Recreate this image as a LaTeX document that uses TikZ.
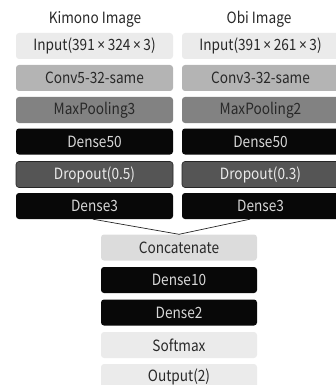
\documentclass[tikz,border=0pt]{standalone}
\usepackage{fontspec}
\setmainfont{Noto Sans CJK JP}[FakeStretch=0.88]
\newfontfamily\timesfont{Noto Sans}[FakeStretch=0.88]
\newcommand{\by}{\,{\timesfont ×}\,}
\usepackage{xcolor}
\usetikzlibrary{positioning,calc}
\definecolor{inputgray}{RGB}{235,235,235}
\definecolor{convgray}{RGB}{180,180,180}
\definecolor{poolgray}{RGB}{130,130,130}
\definecolor{densegray}{RGB}{8,8,8}
\definecolor{dropgray}{RGB}{85,85,85}
\definecolor{concatgray}{RGB}{220,220,220}
\definecolor{darktext}{RGB}{40,40,40}
\definecolor{lighttext}{RGB}{215,215,215}
\tikzset{y=-1pt}
\tikzset{x=1pt}
\tikzstyle{layer}=[rounded corners=3pt, minimum width=157pt, minimum height=26pt, inner sep=0pt, font=\fontsize{15.5}{15.5}\selectfont]
\tikzstyle{title}=[font=\fontsize{15.5}{15.5}\selectfont, text=darktext]
\tikzset{inputlayer/.style={fill=inputgray, text=darktext}}
\tikzset{convlayer/.style={fill=convgray, text=darktext}}
\tikzset{poollayer/.style={fill=poolgray, text=darktext}}
\tikzset{denselayer/.style={fill=densegray, text=lighttext}}
\tikzset{droplayer/.style={fill=dropgray, draw=black!85, line width=.6pt, text=white!92!black}}
\tikzset{concatlayer/.style={fill=concatgray, text=darktext}}

\begin{document}
\begin{tikzpicture}
  \useasboundingbox (0,0) rectangle (335,385);
  \draw (95,19) node[title] (KT) {Kimono Image};
  \draw (259,19) node[title] (OT) {Obi Image};

  \draw (94.5,46) node[layer,inputlayer] (K1) {Input(391\by324\by3)};
  \draw (94.5,78) node[layer,convlayer] (K2) {Conv5-32-same};
  \draw (94.5,110) node[layer,poollayer] (K3) {MaxPooling3};
  \draw (94.5,141.5) node[layer,denselayer] (K4) {Dense50};
  \draw (94.5,174.5) node[layer,droplayer] (K5) {Dropout(0.5)};
  \draw (94.5,206) node[layer,denselayer] (K6) {Dense3};

  \draw (260.5,46) node[layer,inputlayer] (O1) {Input(391\by261\by3)};
  \draw (260.5,78) node[layer,convlayer] (O2) {Conv3-32-same};
  \draw (260.5,110) node[layer,poollayer] (O3) {MaxPooling2};
  \draw (260.5,141.5) node[layer,denselayer] (O4) {Dense50};
  \draw (260.5,174.5) node[layer,droplayer] (O5) {Dropout(0.3)};
  \draw (260.5,206) node[layer,denselayer] (O6) {Dense3};

  \draw (179,247.5) node[layer,concatlayer,minimum width=156pt] (C1) {Concatenate};
  \draw (179,280) node[layer,denselayer,minimum width=156pt] (C2) {Dense10};
  \draw (179,312.5) node[layer,denselayer,minimum width=156pt] (C3) {Dense2};
  \draw (179,345) node[layer,inputlayer,minimum width=156pt] (C4) {Softmax};
  \draw (179,377) node[layer,inputlayer,minimum width=156pt] (C5) {Output(2)};

  %% merge
  \draw[line width=.7pt,black!85] ([xshift=-1.5pt]K6.south) -- (C1.north) -- ([xshift=-10.5pt]O6.south);
\end{tikzpicture}
\end{document}
